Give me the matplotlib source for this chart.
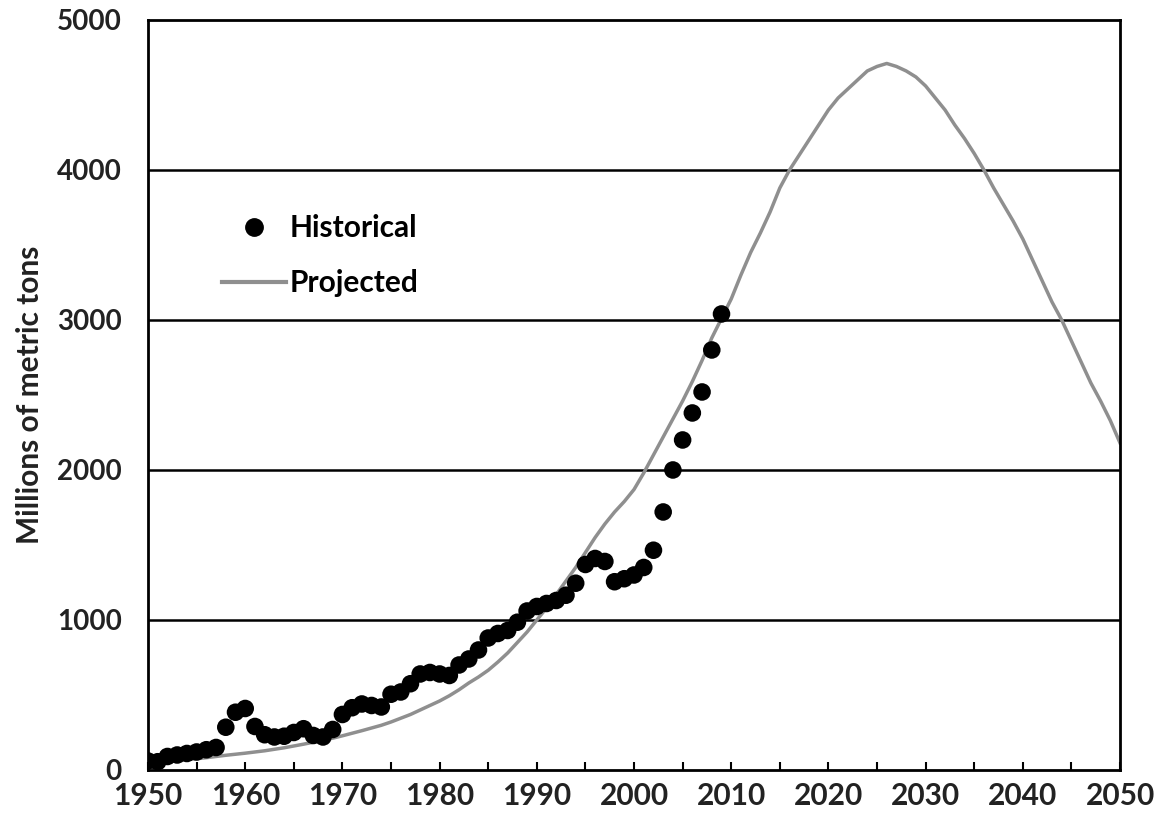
import numpy as np
import matplotlib
matplotlib.use("Agg")
import matplotlib.pyplot as plt
from matplotlib.lines import Line2D

# historical production, 1950-2009
hist_years = list(range(1950, 2010))
hist_values = [
    60, 55, 90, 100, 110, 120, 135, 150, 285, 385,
    410, 290, 235, 220, 225, 250, 275, 230, 220, 270,
    370, 415, 440, 430, 420, 505, 520, 575, 640, 650,
    640, 630, 700, 740, 800, 880, 910, 930, 985, 1060,
    1090, 1110, 1130, 1165, 1245, 1370, 1410, 1390, 1255, 1275,
    1300, 1350, 1465, 1720, 2000, 2200, 2380, 2520, 2800, 3040,
]

# projected curve, 1950-2050
proj_years = list(range(1950, 2051))
proj_values = [
    50, 55, 60, 65, 70, 75, 82, 90, 98, 105,
    112, 120, 128, 138, 148, 160, 172, 185, 198, 212,
    228, 245, 262, 280, 298, 320, 345, 370, 400, 430,
    460, 495, 535, 580, 620, 665, 720, 780, 850, 920,
    1000, 1080, 1170, 1260, 1350, 1450, 1550, 1640, 1720, 1790,
    1870, 1980, 2100, 2220, 2340, 2460, 2590, 2730, 2880, 3010,
    3140, 3300, 3450, 3580, 3720, 3880, 4000, 4100, 4200, 4300,
    4400, 4480, 4540, 4600, 4660, 4690, 4710, 4690, 4660, 4620,
    4560, 4480, 4400, 4300, 4210, 4110, 4000, 3880, 3770, 3660,
    3540, 3400, 3260, 3120, 3000, 2860, 2720, 2580, 2460, 2330,
    2180,
]

x_ticks = list(range(1950, 2051, 10))
y_ticks = [0, 1000, 2000, 3000, 4000, 5000]

fonts = ['Lato', 'DejaVu Sans']

fig = plt.figure(figsize=(11.61, 8.18), dpi=100)
ax = fig.add_axes([0.1275, 0.0587, 0.8372, 0.9169])

# horizontal rules
for v in y_ticks[1:-1]:
    ax.axhline(v, color='black', lw=1.8, zorder=1)

ax.plot(proj_years, proj_values, color='#8f8f8f', lw=2.5, zorder=2)
ax.scatter(hist_years, hist_values, s=160, color='black', edgecolors='none', zorder=3)

ax.set_xlim(1950, 2050)
ax.set_ylim(0, 5000)

ax.set_xticks(x_ticks)
ax.set_xticks(list(range(1950, 2051, 5)), minor=True)
ax.set_yticks(y_ticks)
ax.tick_params(axis='x', which='both', direction='in', length=6, width=1.5, pad=9)
ax.tick_params(axis='y', length=0, pad=19)

for lab in ax.get_xticklabels():
    lab.set_family(fonts)
    lab.set_fontsize(21.5)
    lab.set_fontweight('bold')
    lab.set_color('#222222')
for lab in ax.get_yticklabels():
    lab.set_family(fonts)
    lab.set_fontsize(20)
    lab.set_fontweight('bold')
    lab.set_color('#222222')

for sp in ax.spines.values():
    sp.set_linewidth(2)
    sp.set_color('black')

ax.set_ylabel('Millions of metric tons', family=fonts, fontweight='bold',
              fontsize=21.5, labelpad=9, color='#222222')

handles = [
    Line2D([], [], marker='o', color='black', ls='none', markersize=12.5),
    Line2D([], [], color='#8f8f8f', lw=3),
]
ax.legend(handles, ['Historical', 'Projected'], loc='upper left',
          bbox_to_anchor=(0.064, 0.757), frameon=False, handlelength=2.15,
          handletextpad=0.1, labelspacing=0.9, borderaxespad=0,
          prop={'family': fonts, 'weight': 'bold', 'size': 21.5})

plt.savefig('out.png', dpi=100)
plt.close()
